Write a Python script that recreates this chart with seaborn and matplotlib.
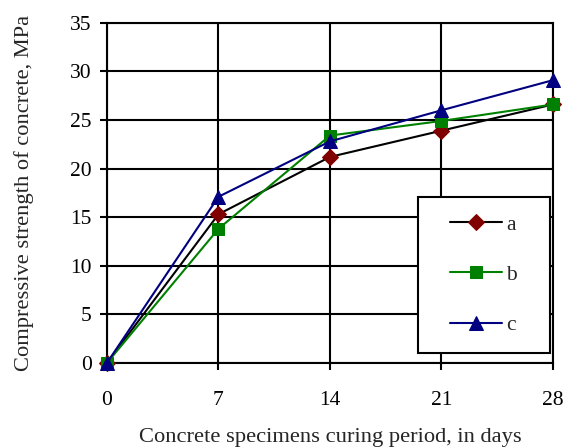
import matplotlib
matplotlib.use("Agg")
import matplotlib.pyplot as plt
from matplotlib.patches import Rectangle
import pandas as pd
import seaborn as sns

# curing period, days
days = [0, 7, 14, 21, 28]
# compressive strength, MPa
strength_a = [0.0, 15.3, 21.2, 23.9, 26.6]
strength_b = [0.0, 13.8, 23.4, 24.9, 26.6]
strength_c = [0.0, 17.1, 22.8, 26.0, 29.1]
series_names = ["a", "b", "c"]
x_ticks = [0, 7, 14, 21, 28]
y_ticks = [0, 5, 10, 15, 20, 25, 30, 35]

df = pd.DataFrame({
    "days": days * 3,
    "strength": strength_a + strength_b + strength_c,
    "series": [s for s in series_names for _ in days],
})

sns.set_style("white")
plt.rcParams["font.family"] = ["Liberation Serif", "DejaVu Serif"]

fig = plt.figure(figsize=(5.66, 4.48), dpi=100)
ax = fig.add_axes([0.189, 0.190, 0.788, 0.759])

line_colors = {"a": "black", "b": "#008000", "c": "#000080"}
marker_colors = {"a": "#800000", "b": "#008000", "c": "#000080"}
markers = {"a": "D", "b": "s", "c": "^"}
msize = {"a": 8, "b": 9, "c": 9.5}

for name in series_names:
    sub = df[df["series"] == name]
    sns.lineplot(
        data=sub, x="days", y="strength", ax=ax,
        color=line_colors[name], marker=markers[name],
        markersize=msize[name], markerfacecolor=marker_colors[name],
        markeredgecolor=marker_colors[name], linewidth=1.5,
        label=name, clip_on=False, zorder=5,
    )

ax.set_xlim(0, 28)
ax.set_ylim(0, 35)
ax.set_xticks(x_ticks)
ax.set_yticks(y_ticks)
ax.grid(True, color="black", linewidth=1.5)
for sp in ax.spines.values():
    sp.set_color("black")
    sp.set_linewidth(1.5)
ax.tick_params(axis="both", direction="out", length=5, width=1.5,
               colors="black", labelsize=15.5, left=True, bottom=True)
ax.tick_params(axis="y", pad=6)
ax.tick_params(axis="x", pad=15)

ax.set_xlabel("Concrete specimens curing period, in days", fontsize=16.2,
              labelpad=13)
ax.set_ylabel("Compressive strength of concrete, MPa", fontsize=16.2,
              labelpad=26)

# legend box: white frame with centred entries
box = (0.697, 0.029, 0.296, 0.459)
ax.add_patch(Rectangle(box[:2], box[2], box[3], transform=ax.transAxes,
                       facecolor="white", edgecolor="black", linewidth=1.5,
                       zorder=6))
leg = ax.legend(
    loc="center", bbox_to_anchor=box, fontsize=15.5, frameon=False,
    handlelength=2.4, labelspacing=1.4, borderpad=0, handletextpad=0.2,
    borderaxespad=0,
)
leg.set_zorder(7)

fig.savefig("out.png", dpi=100)
